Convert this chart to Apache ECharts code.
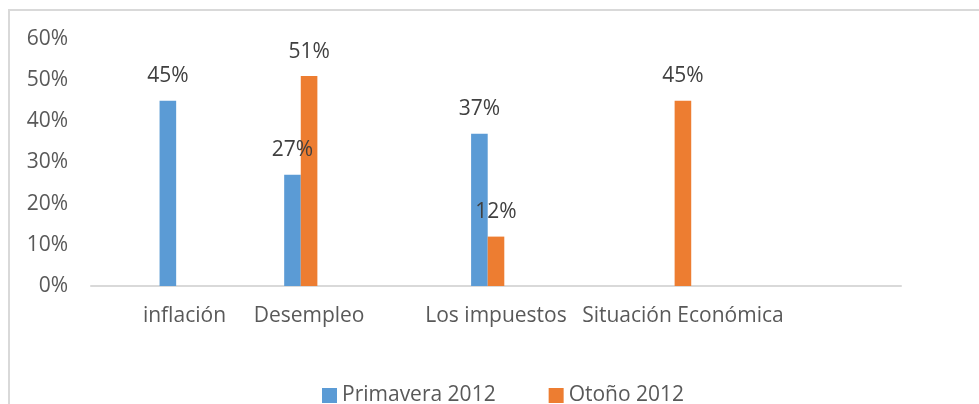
<!DOCTYPE html>
<html>
<head>
<meta charset="utf-8">
<script src="https://cdn.jsdelivr.net/npm/echarts@6/dist/echarts.min.js"></script>
<style>
html, body { margin: 0; padding: 0; background: #fff; }
#main { width: 979px; height: 404px; }
</style>
</head>
<body>
<div id="main"></div>
<script>
// categorías del eje (las vacías son huecos del original)
var categorias = ['', 'inflación', '', 'Desempleo', '', '', 'Los impuestos', '', '', 'Situación Económica', '', '', ''];
// valores en %
var primavera2012 = [null, 45, null, 27, null, null, 37, null, null, null, null, null, null];
var otono2012 = [null, null, null, 51, null, null, 12, null, null, 45, null, null, null];
var serieVacia = [null, null, null, null, null, null, null, null, null, null, null, null, null];
var nombresSeries = ['Primavera 2012', 'Otoño 2012'];
var ejeY = { min: 0, max: 60, interval: 10 };

var myChart = echarts.init(document.getElementById('main'));

var fuente = 'Open Sans';
var etiqueta = {
    show: true,
    position: 'top',
    distance: 14,
    formatter: '{c}%',
    color: '#404040',
    fontSize: 21,
    fontFamily: fuente
};

option = {
    animation: false,
    color: ['#5B9BD5', '#ED7D31'],
    graphic: [{
        type: 'rect',
        shape: { x: 9, y: 10, width: 1000, height: 500 },
        style: { fill: 'none', stroke: '#D9D9D9', lineWidth: 2 },
        silent: true
    }],
    legend: {
        data: nombresSeries,
        left: 322,
        top: 385,
        padding: 0,
        itemWidth: 15,
        itemHeight: 15,
        itemGap: 53,
        icon: 'rect',
        textStyle: { color: '#595959', fontSize: 21, fontFamily: fuente }
    },
    grid: {
        left: 91,
        right: 78,
        top: 39,
        bottom: 118
    },
    xAxis: {
        type: 'category',
        data: categorias,
        axisTick: { show: false },
        axisLine: { lineStyle: { color: '#D9D9D9', width: 2 } },
        axisLabel: {
            interval: 0,
            margin: 20,
            color: '#595959',
            fontSize: 21,
            fontFamily: fuente
        }
    },
    yAxis: {
        type: 'value',
        min: ejeY.min,
        max: ejeY.max,
        interval: ejeY.interval,
        splitLine: { show: false },
        axisLine: { show: false },
        axisTick: { show: false },
        axisLabel: {
            formatter: '{value}%',
            margin: 23,
            color: '#595959',
            fontSize: 21,
            fontFamily: fuente
        }
    },
    series: [
        {
            name: nombresSeries[0],
            type: 'bar',
            barWidth: 16.6,
            barGap: '0%',
            data: primavera2012,
            label: etiqueta
        },
        {
            name: nombresSeries[1],
            type: 'bar',
            barWidth: 16.6,
            barGap: '0%',
            data: otono2012,
            label: etiqueta
        },
        {
            name: 'hueco',
            type: 'bar',
            barWidth: 16.6,
            barGap: '0%',
            data: serieVacia,
            silent: true
        }
    ]
};
myChart.setOption(option);
</script>
</body>
</html>
